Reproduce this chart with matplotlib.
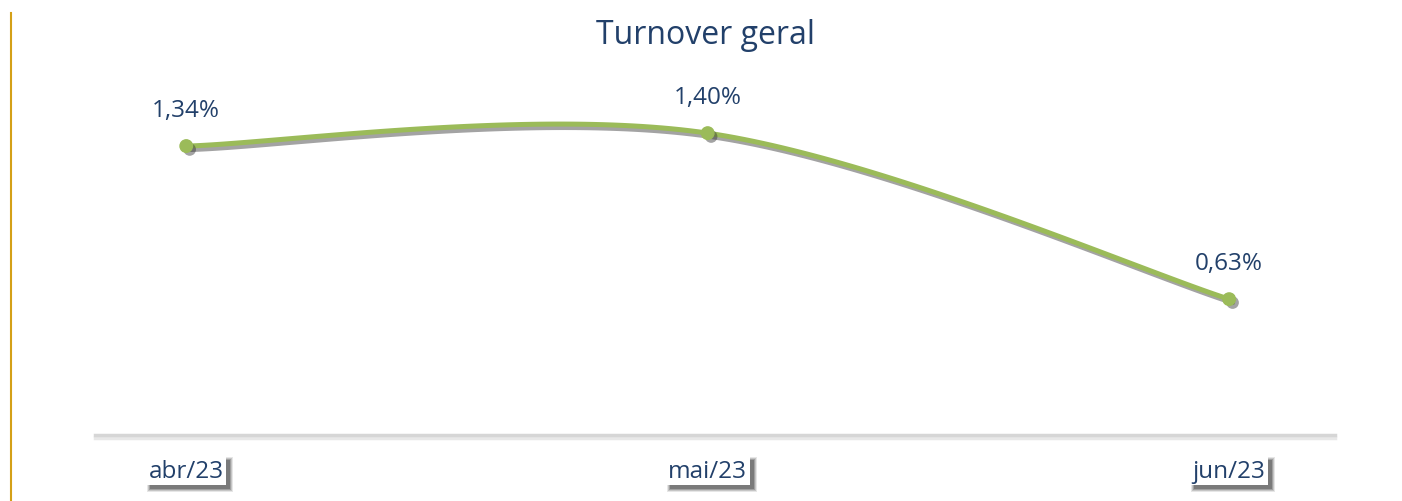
import numpy as np
import matplotlib
matplotlib.use("Agg")
import matplotlib.pyplot as plt
import matplotlib.patheffects as pe
from matplotlib.lines import Line2D
from matplotlib.patches import Rectangle

categories = ["abr/23", "mai/23", "jun/23"]
values = [1.34, 1.40, 0.63]
value_labels = ["1,34%", "1,40%", "0,63%"]
title = "Turnover geral"

NAVY = "#22406A"
GREEN = "#9BBB59"
FONT = ["Open Sans", "DejaVu Sans"]

fig = plt.figure(figsize=(14.02, 5.02), dpi=100)
ax = fig.add_axes([95/1402, 1-436/502, (1335-95)/1402, (436-91)/502])

# Excel-style smoothed line (Catmull-Rom / Bezier through the points)
x = np.arange(len(values), dtype=float)
y = np.array(values, dtype=float)
P = np.column_stack([x, y])
curve = []
for i in range(len(P) - 1):
    p0 = P[i - 1] if i > 0 else P[i]
    p1 = P[i]
    p2 = P[i + 1]
    p3 = P[i + 2] if i + 2 < len(P) else P[i + 1]
    c1 = p1 + (p2 - p0) / 6.0
    c2 = p2 - (p3 - p1) / 6.0
    t = np.linspace(0, 1, 60)[:, None]
    seg = ((1 - t) ** 3) * p1 + 3 * ((1 - t) ** 2) * t * c1 + 3 * (1 - t) * t ** 2 * c2 + t ** 3 * p2
    curve.append(seg if i == 0 else seg[1:])
curve = np.vstack(curve)

shadow = [pe.SimpleLineShadow(offset=(2.5, -2.5), shadow_color="#333333", alpha=0.45), pe.Normal()]
ax.plot(curve[:, 0], curve[:, 1], color=GREEN, lw=3.6, solid_capstyle="round",
        path_effects=shadow, zorder=3)
ax.plot(x, y, linestyle="none", marker="o", ms=9, color=GREEN,
        path_effects=[pe.SimplePatchShadow(offset=(2.5, -2.5), shadow_rgbFace="#333333", alpha=0.45), pe.Normal()],
        zorder=4)

for xi, yi, lab in zip(x, y, value_labels):
    ax.annotate(lab, (xi, yi), xytext=(0, 26), textcoords="offset points",
                ha="center", va="center", fontsize=17.5, color=NAVY, family=FONT)

ax.set_xlim(-0.175, 2.203)
ax.set_ylim(0, 1.6)
ax.set_yticks([])
ax.set_xticks(x)
ax.set_xticklabels(categories, fontsize=17.5, color=NAVY, family=FONT)
ax.tick_params(axis="x", length=0, pad=17)
for lbl in ax.get_xticklabels():
    lbl.set_bbox(dict(boxstyle="square,pad=0.1", facecolor="white", edgecolor="none"))

for s in ["top", "right", "left"]:
    ax.spines[s].set_visible(False)
ax.spines["bottom"].set_color("#D6D6D6")
ax.spines["bottom"].set_linewidth(2.5)
ax.spines["bottom"].set_path_effects([pe.SimpleLineShadow(offset=(0, -2), shadow_color="#E8E8E8", alpha=1.0), pe.Normal()])
ax.patch.set_alpha(0)

fig.text(706/1402, 1-36/502, title, ha="center", va="center", fontsize=23, color=NAVY, family=FONT)

fig.add_artist(Line2D([10.5/1402, 10.5/1402], [0, 1-14/502], color="#D4A017", lw=1.5))

# soft shadows behind the category label boxes (drawn below the axes)
fig.canvas.draw()
renderer = fig.canvas.get_renderer()
W, H = fig.bbox.width, fig.bbox.height
for lbl in ax.get_xticklabels():
    bb = lbl.get_bbox_patch().get_window_extent(renderer)
    for grow, a in [(3, 0.12), (2, 0.18), (1, 0.25), (0, 0.35)]:
        r = Rectangle(((bb.x0 + 4 - grow) / W, (bb.y0 - 4 - grow) / H),
                      (bb.width + 2 * grow) / W, (bb.height + 2 * grow) / H,
                      transform=fig.transFigure, facecolor="#333333", edgecolor="none",
                      alpha=a, zorder=-1)
        fig.add_artist(r)

fig.savefig("out.png", dpi=100, facecolor="white")
